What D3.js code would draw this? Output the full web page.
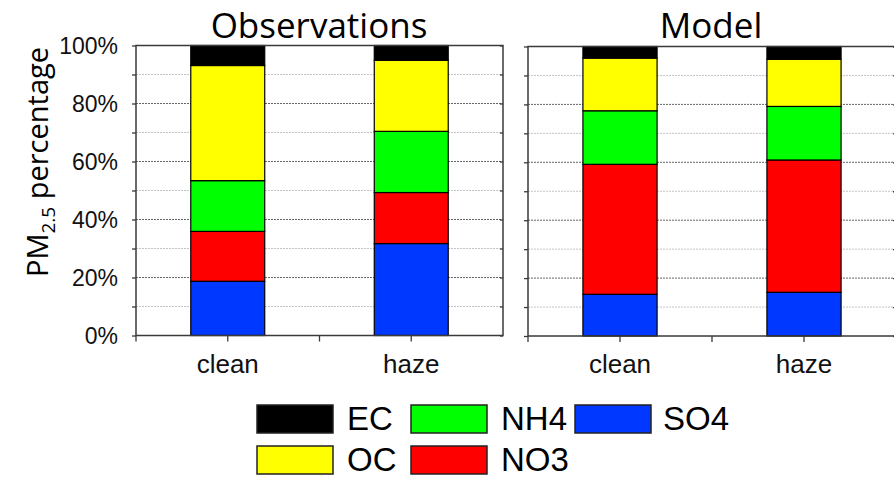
<!DOCTYPE html>
<html>
<head>
<meta charset="utf-8">
<script src="https://cdn.jsdelivr.net/npm/d3@7/dist/d3.min.js"></script>
<style>
  html, body { margin: 0; padding: 0; background: #fff; }
  svg { display: block; }
</style>
</head>
<body>
<svg id="chart" width="894" height="480"></svg>
<script>
// PM2.5 composition (percent of total), stacked bottom to top
const categories = ["clean", "haze"];
const species = ["SO4", "NO3", "NH4", "OC", "EC"];
const speciesColors = ["#0038ff", "#ff0000", "#00ff00", "#ffff00", "#000000"];

// Observations
const obsSO4 = [18.7, 31.7];
const obsNO3 = [17.2, 17.6];
const obsNH4 = [17.5, 21.1];
const obsOC  = [39.7, 24.5];
const obsEC  = [6.9, 5.1];

// Model
const modSO4 = [14.4, 15.1];
const modNO3 = [44.9, 45.7];
const modNH4 = [18.5, 18.5];
const modOC  = [18.2, 16.3];
const modEC  = [4.0, 4.4];

const yTickValues = [0, 20, 40, 60, 80, 100];
const yMinorValues = [10, 30, 50, 70, 90];
const panelTitles = ["Observations", "Model"];

// legend entries in reading order
const legendOrder = ["EC", "NH4", "SO4", "OC", "NO3"];

const svg = d3.select("#chart");
const color = d3.scaleOrdinal().domain(species).range(speciesColors);

function makeRows(so4, no3, nh4, oc, ec) {
  return categories.map((c, i) => ({
    cat: c, SO4: so4[i], NO3: no3[i], NH4: nh4[i], OC: oc[i], EC: ec[i]
  }));
}

const panels = [
  { title: panelTitles[0], rows: makeRows(obsSO4, obsNO3, obsNH4, obsOC, obsEC),
    x0: 136, x1: 503, y0: 335.5, y1: 45.5, titleX: 319, leftLabels: true },
  { title: panelTitles[1], rows: makeRows(modSO4, modNO3, modNH4, modOC, modEC),
    x0: 528, x1: 896, y0: 336, y1: 46.5, titleX: 711, leftLabels: false }
];

const stack = d3.stack().keys(species);
const frameColor = "#3a3a3a";

panels.forEach(p => {
  const g = svg.append("g");
  const x = d3.scaleBand().domain(categories).range([p.x0, p.x1]).padding(0);
  const y = d3.scaleLinear().domain([0, 100]).range([p.y0, p.y1]);
  const barW = x.bandwidth() * 0.403;

  // gridlines
  g.append("g").selectAll("line").data(yMinorValues).join("line")
    .attr("x1", p.x0).attr("x2", p.x1)
    .attr("y1", d => y(d)).attr("y2", d => y(d))
    .attr("stroke", "#c4c4c4").attr("stroke-width", 1)
    .attr("stroke-dasharray", "2,1");
  g.append("g").selectAll("line").data(yTickValues.slice(1, -1)).join("line")
    .attr("x1", p.x0).attr("x2", p.x1)
    .attr("y1", d => y(d)).attr("y2", d => y(d))
    .attr("stroke", "#666").attr("stroke-width", 1)
    .attr("stroke-dasharray", "2,1");

  // stacked bars
  const series = stack(p.rows);
  g.append("g").selectAll("g").data(series).join("g")
    .attr("fill", d => color(d.key))
    .selectAll("rect").data(d => d).join("rect")
      .attr("x", d => x(d.data.cat) + x.bandwidth() / 2 - barW / 2)
      .attr("width", barW)
      .attr("y", d => y(d[1]))
      .attr("height", d => y(d[0]) - y(d[1]))
      .attr("stroke", "#000").attr("stroke-width", 1.2);

  // left axis (outward ticks), labelled on the first panel
  const allTicks = yTickValues.concat(yMinorValues).sort((a, b) => a - b);
  const leftAxis = d3.axisLeft(y).tickValues(allTicks).tickSize(4).tickPadding(14)
    .tickFormat(d => (yTickValues.includes(d) && p.leftLabels) ? d + "%" : "");
  const la = g.append("g").attr("transform", `translate(${p.x0},0)`).call(leftAxis);
  la.select(".domain").remove();
  la.selectAll(".tick line").attr("stroke", frameColor).attr("stroke-width", 1.3);
  la.selectAll(".tick text")
    .attr("font-family", "'Liberation Sans', Arial, sans-serif")
    .attr("font-size", 23).attr("fill", "#111")
    .attr("dy", "0.36em");

  // right axis (inward ticks)
  const rightAxis = d3.axisLeft(y).tickValues(allTicks).tickSize(3).tickFormat("");
  const ra = g.append("g").attr("transform", `translate(${p.x1},0)`).call(rightAxis);
  ra.select(".domain").remove();
  ra.selectAll(".tick line").attr("stroke", frameColor).attr("stroke-width", 1.3);

  // bottom axis: ticks at category centres and band boundaries
  const bottomTicks = [p.x0, p.x0 + x.step() * 0.5, p.x0 + x.step(), p.x0 + x.step() * 1.5];
  g.append("g").selectAll("line").data(bottomTicks).join("line")
    .attr("x1", d => d).attr("x2", d => d)
    .attr("y1", p.y0).attr("y2", p.y0 + 6)
    .attr("stroke", frameColor).attr("stroke-width", 1.3);
  g.append("g").selectAll("text").data(categories).join("text")
    .attr("x", d => x(d) + x.bandwidth() / 2)
    .attr("y", p.y0 + 37)
    .attr("text-anchor", "middle")
    .attr("font-family", "'Liberation Sans', Arial, sans-serif")
    .attr("font-size", 26).attr("fill", "#111")
    .text(d => d);

  // frame
  g.append("rect")
    .attr("x", p.x0).attr("y", p.y1)
    .attr("width", p.x1 - p.x0).attr("height", p.y0 - p.y1)
    .attr("fill", "none").attr("stroke", frameColor).attr("stroke-width", 1.5);

  // panel title
  svg.append("text")
    .attr("x", p.titleX).attr("y", 38)
    .attr("text-anchor", "middle")
    .attr("font-family", "'Open Sans', sans-serif")
    .attr("font-size", 35).attr("fill", "#000")
    .text(p.title);
});

// y-axis title with subscript
const yTitle = svg.append("text")
  .attr("transform", "translate(48,162) rotate(-90)")
  .attr("text-anchor", "middle")
  .attr("font-family", "'Open Sans', sans-serif")
  .attr("font-size", 29).attr("fill", "#000");
yTitle.append("tspan").text("PM");
yTitle.append("tspan").attr("font-size", 19).attr("dy", 7).text("2.5");
yTitle.append("tspan").attr("dy", -7).text(" percentage");

// legend
const legendPos = {
  EC:  { x: 257, y: 405 }, NH4: { x: 411, y: 405 }, SO4: { x: 575, y: 405 },
  OC:  { x: 257, y: 446 }, NO3: { x: 411, y: 446 }
};
const lg = svg.append("g").selectAll("g").data(legendOrder).join("g")
  .attr("transform", d => `translate(${legendPos[d].x},${legendPos[d].y})`);
lg.append("rect")
  .attr("width", 76).attr("height", 28)
  .attr("fill", d => color(d))
  .attr("stroke", "#222").attr("stroke-width", 1.5);
lg.append("text")
  .attr("x", d => d === "SO4" ? 88 : 90).attr("y", 25)
  .attr("font-family", "'Liberation Sans', Arial, sans-serif")
  .attr("font-size", 33).attr("fill", "#000")
  .text(d => d);
</script>
</body>
</html>
